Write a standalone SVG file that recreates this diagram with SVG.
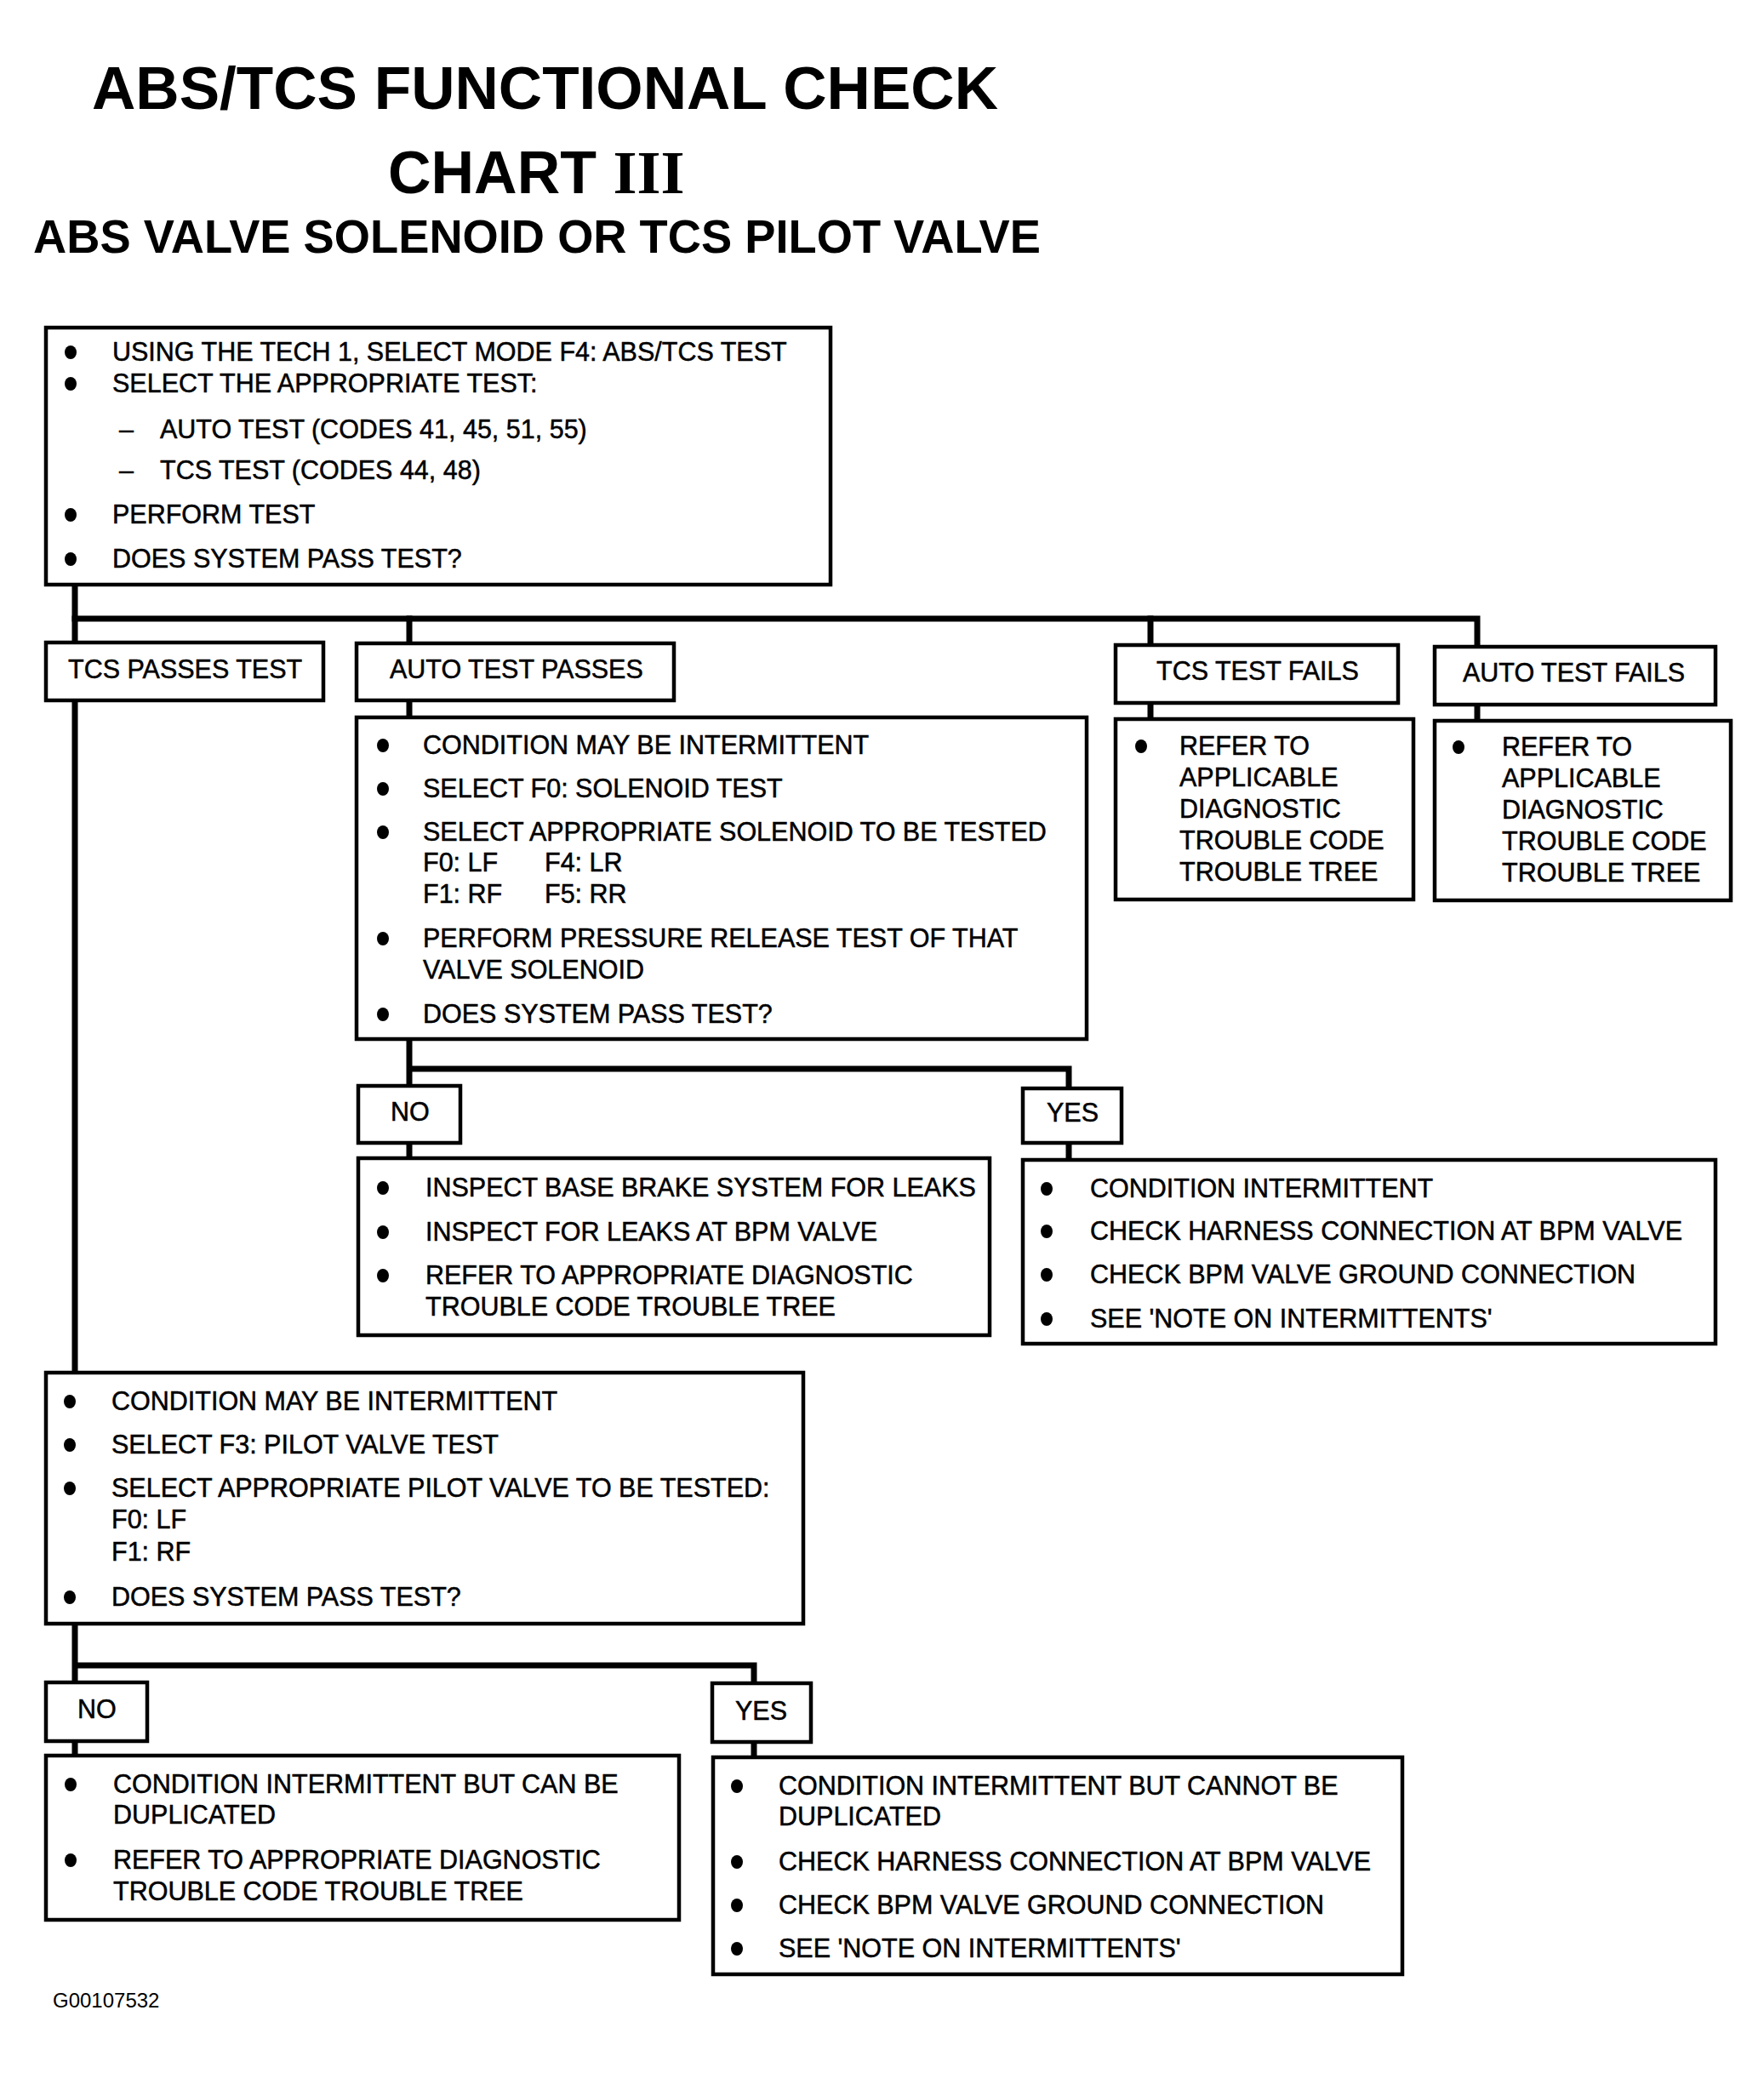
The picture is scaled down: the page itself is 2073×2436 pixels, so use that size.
<svg xmlns="http://www.w3.org/2000/svg" width="2073" height="2436" viewBox="0 0 2073 2436">
<style>
.t{font-family:"Liberation Sans",Arial,sans-serif;font-size:30.5px;fill:#000;stroke:#000;stroke-width:0.5}
.h{font-family:"Liberation Sans",Arial,sans-serif;font-weight:bold;fill:#000}
.s{font-family:"Liberation Serif","Times New Roman",serif;font-weight:bold;fill:#000}
.box{fill:#fff;stroke:#000;stroke-width:4.5}
.con{fill:none;stroke:#000;stroke-width:7;stroke-linejoin:miter;stroke-linecap:square}
.b{fill:#000}
</style>
<rect width="2073" height="2436" fill="#fff"/>
<g id="title">
<text class="h" x="108" y="128" font-size="71" textLength="1065" lengthAdjust="spacingAndGlyphs">ABS/TCS FUNCTIONAL CHECK</text>
<text class="h" x="456" y="227" font-size="70">CHART <tspan class="s" font-size="72">III</tspan></text>
<text class="h" x="39" y="297" font-size="55" textLength="1184" lengthAdjust="spacingAndGlyphs">ABS VALVE SOLENOID OR TCS PILOT VALVE</text>
</g>
<g id="connectors">
<path class="con" d="M88,687 V1613"/>
<path class="con" d="M88,727 H1736 V760"/>
<path class="con" d="M481,727 V756 M481,823 V843"/>
<path class="con" d="M1352,727 V758 M1352,826 V845"/>
<path class="con" d="M1736,828 V847"/>
<path class="con" d="M481,1221 V1276 M481,1256 H1256 V1279"/>
<path class="con" d="M481,1343 V1361 M1256,1343 V1363"/>
<path class="con" d="M88,1908 V1977 M88,1957 H886 V1978"/>
<path class="con" d="M88,2046 V2063 M886,2047 V2065"/>
</g>
<g id="start">
<rect class="box" x="54" y="385" width="922" height="302"/>
<ellipse class="b" cx="83" cy="414" rx="7" ry="8"/>
<text class="t" x="132" y="424">USING THE TECH 1, SELECT MODE F4: ABS/TCS TEST</text>
<ellipse class="b" cx="83" cy="451" rx="7" ry="8"/>
<text class="t" x="132" y="461">SELECT THE APPROPRIATE TEST:</text>
<text class="t" x="140" y="515">–</text>
<text class="t" x="188" y="515">AUTO TEST (CODES 41, 45, 51, 55)</text>
<text class="t" x="140" y="563">–</text>
<text class="t" x="188" y="563">TCS TEST (CODES 44, 48)</text>
<ellipse class="b" cx="83" cy="605" rx="7" ry="8"/>
<text class="t" x="132" y="615">PERFORM TEST</text>
<ellipse class="b" cx="83" cy="657" rx="7" ry="8"/>
<text class="t" x="132" y="667">DOES SYSTEM PASS TEST?</text>
</g>
<g id="tcs-passes">
<rect class="box" x="54" y="755" width="326" height="68"/>
<text class="t" x="80" y="797">TCS PASSES TEST</text>
</g>
<g id="auto-passes">
<rect class="box" x="419" y="756" width="373" height="67"/>
<text class="t" x="458" y="797">AUTO TEST PASSES</text>
</g>
<g id="tcs-fails">
<rect class="box" x="1311" y="758" width="332" height="68"/>
<text class="t" x="1359" y="799">TCS TEST FAILS</text>
</g>
<g id="auto-fails">
<rect class="box" x="1686" y="760" width="330" height="68"/>
<text class="t" x="1719" y="801">AUTO TEST FAILS</text>
</g>
<g id="solenoid-test">
<rect class="box" x="419" y="843" width="858" height="378"/>
<ellipse class="b" cx="450" cy="876" rx="7" ry="8"/>
<text class="t" x="497" y="886">CONDITION MAY BE INTERMITTENT</text>
<ellipse class="b" cx="450" cy="927" rx="7" ry="8"/>
<text class="t" x="497" y="937">SELECT F0: SOLENOID TEST</text>
<ellipse class="b" cx="450" cy="978" rx="7" ry="8"/>
<text class="t" x="497" y="988">SELECT APPROPRIATE SOLENOID TO BE TESTED</text>
<text class="t" x="497" y="1024">F0: LF</text>
<text class="t" x="640" y="1024">F4: LR</text>
<text class="t" x="497" y="1061">F1: RF</text>
<text class="t" x="640" y="1061">F5: RR</text>
<ellipse class="b" cx="450" cy="1103" rx="7" ry="8"/>
<text class="t" x="497" y="1113">PERFORM PRESSURE RELEASE TEST OF THAT</text>
<text class="t" x="497" y="1150">VALVE SOLENOID</text>
<ellipse class="b" cx="450" cy="1192" rx="7" ry="8"/>
<text class="t" x="497" y="1202">DOES SYSTEM PASS TEST?</text>
</g>
<g id="tcs-fails-action">
<rect class="box" x="1311" y="845" width="350" height="212"/>
<ellipse class="b" cx="1341" cy="877" rx="7" ry="8"/>
<text class="t" x="1386" y="887">REFER TO</text>
<text class="t" x="1386" y="924">APPLICABLE</text>
<text class="t" x="1386" y="961">DIAGNOSTIC</text>
<text class="t" x="1386" y="998">TROUBLE CODE</text>
<text class="t" x="1386" y="1035">TROUBLE TREE</text>
</g>
<g id="auto-fails-action">
<rect class="box" x="1686" y="847" width="348" height="211"/>
<ellipse class="b" cx="1714" cy="878" rx="7" ry="8"/>
<text class="t" x="1765" y="888">REFER TO</text>
<text class="t" x="1765" y="925">APPLICABLE</text>
<text class="t" x="1765" y="962">DIAGNOSTIC</text>
<text class="t" x="1765" y="999">TROUBLE CODE</text>
<text class="t" x="1765" y="1036">TROUBLE TREE</text>
</g>
<g id="no-1">
<rect class="box" x="421" y="1276" width="120" height="67"/>
<text class="t" x="459" y="1317">NO</text>
</g>
<g id="yes-1">
<rect class="box" x="1202" y="1279" width="116" height="64"/>
<text class="t" x="1230" y="1318">YES</text>
</g>
<g id="no-1-action">
<rect class="box" x="421" y="1361" width="742" height="208"/>
<ellipse class="b" cx="450" cy="1396" rx="7" ry="8"/>
<text class="t" x="500" y="1406">INSPECT BASE BRAKE SYSTEM FOR LEAKS</text>
<ellipse class="b" cx="450" cy="1448" rx="7" ry="8"/>
<text class="t" x="500" y="1458">INSPECT FOR LEAKS AT BPM VALVE</text>
<ellipse class="b" cx="450" cy="1499" rx="7" ry="8"/>
<text class="t" x="500" y="1509">REFER TO APPROPRIATE DIAGNOSTIC</text>
<text class="t" x="500" y="1546">TROUBLE CODE TROUBLE TREE</text>
</g>
<g id="yes-1-action">
<rect class="box" x="1202" y="1363" width="814" height="216"/>
<ellipse class="b" cx="1230" cy="1397" rx="7" ry="8"/>
<text class="t" x="1281" y="1407">CONDITION INTERMITTENT</text>
<ellipse class="b" cx="1230" cy="1447" rx="7" ry="8"/>
<text class="t" x="1281" y="1457">CHECK HARNESS CONNECTION AT BPM VALVE</text>
<ellipse class="b" cx="1230" cy="1498" rx="7" ry="8"/>
<text class="t" x="1281" y="1508">CHECK BPM VALVE GROUND CONNECTION</text>
<ellipse class="b" cx="1230" cy="1550" rx="7" ry="8"/>
<text class="t" x="1281" y="1560">SEE 'NOTE ON INTERMITTENTS'</text>
</g>
<g id="pilot-test">
<rect class="box" x="54" y="1613" width="890" height="295"/>
<ellipse class="b" cx="82" cy="1647" rx="7" ry="8"/>
<text class="t" x="131" y="1657">CONDITION MAY BE INTERMITTENT</text>
<ellipse class="b" cx="82" cy="1698" rx="7" ry="8"/>
<text class="t" x="131" y="1708">SELECT F3: PILOT VALVE TEST</text>
<ellipse class="b" cx="82" cy="1749" rx="7" ry="8"/>
<text class="t" x="131" y="1759">SELECT APPROPRIATE PILOT VALVE TO BE TESTED:</text>
<text class="t" x="131" y="1796">F0: LF</text>
<text class="t" x="131" y="1834">F1: RF</text>
<ellipse class="b" cx="82" cy="1877" rx="7" ry="8"/>
<text class="t" x="131" y="1887">DOES SYSTEM PASS TEST?</text>
</g>
<g id="no-2">
<rect class="box" x="54" y="1977" width="119" height="69"/>
<text class="t" x="91" y="2019">NO</text>
</g>
<g id="yes-2">
<rect class="box" x="837" y="1978" width="116" height="69"/>
<text class="t" x="864" y="2021">YES</text>
</g>
<g id="no-2-action">
<rect class="box" x="54" y="2063" width="744" height="193"/>
<ellipse class="b" cx="83" cy="2097" rx="7" ry="8"/>
<text class="t" x="133" y="2107">CONDITION INTERMITTENT BUT CAN BE</text>
<text class="t" x="133" y="2143">DUPLICATED</text>
<ellipse class="b" cx="83" cy="2186" rx="7" ry="8"/>
<text class="t" x="133" y="2196">REFER TO APPROPRIATE DIAGNOSTIC</text>
<text class="t" x="133" y="2233">TROUBLE CODE TROUBLE TREE</text>
</g>
<g id="yes-2-action">
<rect class="box" x="838" y="2065" width="810" height="255"/>
<ellipse class="b" cx="866" cy="2099" rx="7" ry="8"/>
<text class="t" x="915" y="2109">CONDITION INTERMITTENT BUT CANNOT BE</text>
<text class="t" x="915" y="2145">DUPLICATED</text>
<ellipse class="b" cx="866" cy="2188" rx="7" ry="8"/>
<text class="t" x="915" y="2198">CHECK HARNESS CONNECTION AT BPM VALVE</text>
<ellipse class="b" cx="866" cy="2239" rx="7" ry="8"/>
<text class="t" x="915" y="2249">CHECK BPM VALVE GROUND CONNECTION</text>
<ellipse class="b" cx="866" cy="2290" rx="7" ry="8"/>
<text class="t" x="915" y="2300">SEE 'NOTE ON INTERMITTENTS'</text>
</g>
<g id="figure-id">
<text x="62" y="2359" font-family="Liberation Sans, Arial, sans-serif" font-size="24" fill="#000">G00107532</text>
</g>
</svg>
